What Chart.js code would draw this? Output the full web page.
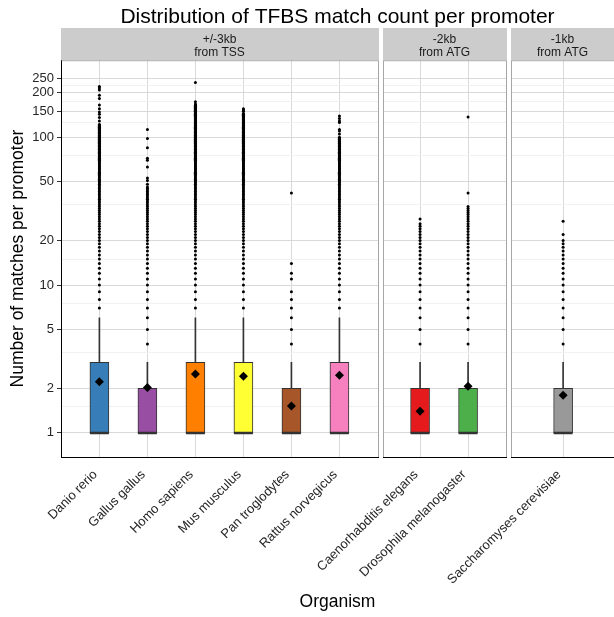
<!DOCTYPE html>
<html>
<head>
<meta charset="utf-8">
<script src="https://cdn.jsdelivr.net/npm/chart.js@4"></script>
<style>
  html, body { margin: 0; padding: 0; background: #fff; overflow: hidden; }
  canvas { display: block; }
</style>
</head>
<body>
<canvas id="boxChart" width="614" height="617"></canvas>
<script>
// organisms, grouped into the three promoter-definition facets
const organisms = ['Danio rerio', 'Gallus gallus', 'Homo sapiens', 'Mus musculus', 'Pan troglodytes',
  'Rattus norvegicus', 'Caenorhabditis elegans', 'Drosophila melanogaster', 'Saccharomyses cerevisiae'];
const facetOf = [0, 0, 0, 0, 0, 0, 1, 1, 2];
const facetLabels = [['+/-3kb', 'from TSS'], ['-2kb', 'from ATG'], ['-1kb', 'from ATG']];

// box statistics (matches per promoter)
const boxLow = [1, 1, 1, 1, 1, 1, 1, 1, 1];
const medians = [1, 1, 1, 1, 1, 1, 1, 1, 1];
const boxHigh = [3, 2, 3, 3, 2, 3, 2, 2, 2];
const whiskerHigh = [6, 3, 6, 6, 3, 6, 3, 3, 3];
const means = [2.22, 2.03, 2.5, 2.42, 1.52, 2.45, 1.4, 2.07, 1.8];

// outliers: runs of consecutive counts that are all present, plus isolated counts
const outlierRuns = [[7, 122], [4, 46], [7, 165], [7, 145], null, [7, 100], [4, 26], [4, 34], [4, 20]];
const outlierSingles = [
  [129, 136, 143, 148, 156, 165, 183, 192, 209, 215, 220],
  [48, 51, 53, 63, 70, 72, 85, 98, 113],
  [168, 174, 235],
  [150, 153, 156],
  [4, 5, 6, 7, 8, 9, 11, 12, 14, 42],
  [105, 110, 113, 126, 129, 134, 139],
  [28],
  [42, 137],
  [22, 27]
];

const yMajorTicks = [1, 2, 5, 10, 20, 50, 100, 150, 200, 250];
const yMinorTicks = [1.5, 3.5, 7.5, 15, 35, 75, 125, 175, 225];

const boxColors = ['#377EB8', '#984EA3', '#FF7F00', '#FFFF33', '#A65628', '#F781BF', '#E41A1C', '#4DAF4A', '#999999'];

// facet layout on the x axis (units of one category slot)
const panelBounds = [[0, 6.6], [6.7, 9.26], [9.37, 11.52]];
const panelPad = [0.8, 0.78, 1.09];

const xPos = organisms.map((_, i) => {
  const f = facetOf[i];
  const k = facetOf.slice(0, i).filter(v => v === f).length;
  return panelBounds[f][0] + panelPad[f] + k;
});

const outlierPoints = [];
organisms.forEach((_, i) => {
  const run = outlierRuns[i];
  if (run) {
    for (let v = run[0]; v <= run[1]; v++) outlierPoints.push({ x: xPos[i], y: v });
  }
  outlierSingles[i].forEach(v => outlierPoints.push({ x: xPos[i], y: v }));
});

Chart.defaults.font.family = '"Liberation Sans", Arial, Helvetica, sans-serif';

const facetPlugin = {
  id: 'facets',
  beforeDatasetsDraw(chart) {
    const { ctx, chartArea: a, scales: { x } } = chart;
    ctx.save();
    ctx.fillStyle = '#fff';
    for (let p = 0; p < panelBounds.length - 1; p++) {
      const x0 = Math.round(x.getPixelForValue(panelBounds[p][1]));
      const x1 = Math.round(x.getPixelForValue(panelBounds[p + 1][0]));
      ctx.fillRect(x0 + 1, a.top - 2, x1 - x0 - 1, a.bottom - a.top + 4);
    }
    ctx.lineWidth = 1;
    panelBounds.forEach(([s, e], p) => {
      const x0 = Math.round(x.getPixelForValue(s)) + 0.5;
      const x1 = Math.round(x.getPixelForValue(e)) + 0.5;
      ctx.strokeStyle = '#a6a6a6';
      ctx.strokeRect(x0, a.top + 0.5, x1 - x0, a.bottom - a.top);
      ctx.strokeStyle = '#000';
      ctx.beginPath();
      ctx.moveTo(x0 - 0.5, a.bottom + 0.5);
      ctx.lineTo(x1 + 0.5, a.bottom + 0.5);
      if (p === 0) {
        ctx.moveTo(x0, a.top);
        ctx.lineTo(x0, a.bottom + 1);
      }
      ctx.stroke();
    });
    ctx.restore();
  },
  afterDraw(chart) {
    const { ctx, chartArea: a, scales: { x } } = chart;
    const stripTop = 28;
    ctx.save();
    panelBounds.forEach(([s, e], p) => {
      const x0 = Math.round(x.getPixelForValue(s));
      const x1 = Math.round(x.getPixelForValue(e));
      ctx.fillStyle = '#cccccc';
      ctx.fillRect(x0, stripTop, x1 - x0 + 1, a.top - stripTop);
      ctx.fillStyle = '#1a1a1a';
      ctx.font = '12px "Liberation Sans", Arial, sans-serif';
      ctx.textAlign = 'center';
      ctx.textBaseline = 'middle';
      facetLabels[p].forEach((line, k) => ctx.fillText(line, (x0 + x1) / 2, stripTop + 12 + k * 13));
    });
    ctx.restore();
  }
};

new Chart(document.getElementById('boxChart'), {
  type: 'bar',
  data: {
    datasets: [
      {
        type: 'scatter',
        label: 'mean',
        data: organisms.map((_, i) => ({ x: xPos[i], y: means[i] })),
        pointStyle: 'rectRot',
        radius: 4.5,
        backgroundColor: '#000',
        borderWidth: 0,
        order: 0
      },
      {
        type: 'scatter',
        label: 'outliers',
        data: outlierPoints,
        pointStyle: 'circle',
        radius: 1.5,
        backgroundColor: '#000',
        borderWidth: 0,
        order: 1
      },
      {
        type: 'scatter',
        label: 'median',
        data: organisms.map((_, i) => ({ x: xPos[i], y: medians[i] })),
        pointStyle: 'line',
        radius: 9.5,
        borderColor: '#333',
        borderWidth: 2.5,
        order: 2
      },
      {
        type: 'bar',
        label: 'box',
        data: organisms.map((_, i) => ({ x: xPos[i], y: [boxLow[i], boxHigh[i]] })),
        backgroundColor: boxColors,
        borderColor: '#333',
        borderWidth: 1,
        borderSkipped: false,
        barThickness: 19,
        grouped: false,
        order: 3
      },
      {
        type: 'bar',
        label: 'whisker',
        data: organisms.map((_, i) => ({ x: xPos[i], y: [boxHigh[i], whiskerHigh[i]] })),
        backgroundColor: '#333',
        borderWidth: 0,
        barThickness: 1,
        grouped: false,
        order: 4
      }
    ]
  },
  options: {
    responsive: false,
    animation: false,
    events: [],
    layout: { padding: 0, autoPadding: false },
    plugins: {
      legend: { display: false },
      tooltip: { enabled: false },
      title: {
        display: true,
        text: 'Distribution of TFBS match count per promoter',
        color: '#000',
        fullSize: false,
        font: { size: 21, weight: 'normal' },
        padding: { top: 5, bottom: 30 }
      }
    },
    scales: {
      x: {
        type: 'linear',
        offset: false,
        min: 0,
        max: 11.52,
        afterBuildTicks: s => { s.ticks = xPos.map(v => ({ value: v })); },
        afterFit: s => { s.height = 160; s.paddingLeft = 0; s.paddingRight = 0; },
        ticks: {
          callback: (v, i) => organisms[i],
          autoSkip: false,
          minRotation: 45,
          maxRotation: 45,
          labelOffset: -4,
          color: '#262626',
          font: { size: 13 },
          padding: 6
        },
        grid: { offset: false, color: '#d9d9d9', tickLength: 4, tickColor: 'transparent' },
        border: { color: '#000' },
        title: {
          display: true,
          text: 'Organism',
          color: '#000',
          font: { size: 17.5 },
          padding: { top: 0, bottom: 4 }
        }
      },
      y: {
        type: 'logarithmic',
        min: 0.687,
        max: 332,
        afterBuildTicks: s => { s.ticks = yMajorTicks.concat(yMinorTicks).map(v => ({ value: v })); },
        afterFit: s => { s.width = 61; s.paddingTop = 0; s.paddingBottom = 0; },
        ticks: {
          callback: v => (yMajorTicks.includes(v) ? String(v) : ''),
          autoSkip: false,
          color: '#262626',
          font: { size: 13 },
          padding: 3
        },
        grid: {
          color: c => (yMajorTicks.includes(c.tick.value) ? '#d9d9d9' : '#f1f1f1'),
          tickColor: c => (yMajorTicks.includes(c.tick.value) ? '#333' : 'transparent'),
          tickLength: 4
        },
        border: { color: '#000' },
        title: {
          display: true,
          text: 'Number of matches per promoter',
          color: '#000',
          font: { size: 17.5 },
          padding: { top: 8, bottom: 0 }
        }
      }
    }
  },
  plugins: [facetPlugin]
});
</script>
</body>
</html>
